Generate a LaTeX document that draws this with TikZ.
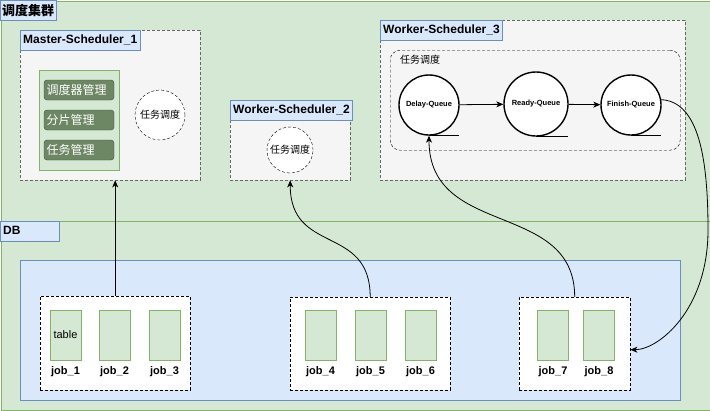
\documentclass[tikz,border=0pt]{standalone}
\usepackage{fontspec}
\setmainfont{Liberation Sans}
\newfontfamily\cjk{Noto Sans CJK SC}
\usetikzlibrary{arrows.meta,positioning}
\definecolor{zonefill}{HTML}{D5E8D4}
\definecolor{zoneline}{HTML}{82B366}
\definecolor{tagfill}{HTML}{DAE8FC}
\definecolor{tagline}{HTML}{6C8EBF}
\definecolor{hostfill}{HTML}{F5F5F5}
\definecolor{hostline}{HTML}{666666}
\definecolor{mgrfill}{HTML}{6D8764}
\definecolor{mgrline}{HTML}{3A5431}
\newcommand\fs[1]{\fontsize{#1}{#1}\selectfont}
\tikzset{
  zone/.style={
    fill = zonefill,
    draw = zoneline,
    line width = 0.8pt,
    anchor = north west
  },
  tag/.style={
    fill = tagfill,
    draw = tagline,
    anchor = north west,
    minimum height = 20pt,
    inner xsep = 3pt,
    inner ysep = 0pt,
    font = \bfseries\fs{12}
  },
  host/.style={
    fill = hostfill,
    draw = hostline,
    dash pattern = on 3pt off 2pt,
    anchor = north west
  },
  mgr/.style={
    fill = mgrfill,
    draw = mgrline,
    rounded corners = 3pt,
    minimum width = 70pt,
    minimum height = 20pt,
    text width = 65pt,
    inner xsep = 2.5pt,
    text = white,
    font = \cjk\fs{12}
  },
  task/.style={
    circle,
    draw,
    fill = white,
    dash pattern = on 3pt off 2pt,
    inner sep = 0pt,
    font = \cjk\fs{10}
  },
  queue/.style={
    circle,
    draw,
    fill = white,
    line width = 1.4pt,
    inner sep = 0pt,
    font = \bfseries\fs{7.5}
  },
  tail/.style={
    line width = 1.4pt
  },
  grp/.style={
    fill = white,
    draw,
    dash pattern = on 3pt off 2pt,
    anchor = north west
  },
  tbl/.style={
    fill = zonefill,
    draw = zoneline,
    minimum width = 31pt,
    minimum height = 50pt,
    font = \fs{11}
  },
  joblabel/.style={
    inner sep = 0pt,
    font = \bfseries\fs{11}
  },
  link/.style={
    line width = 0.8pt,
    -{Stealth[length=7pt,width=6pt,inset=2pt]}
  }
}

\begin{document}
\begin{tikzpicture}[x=1pt,y=-1pt]
        \useasboundingbox (0,0) rectangle (710,410);

        % the two zones
        \node[zone, minimum width=709pt, minimum height=220pt] (cluster) at (0.5,0.5) {};
        \node[zone, minimum width=709pt, minimum height=189pt] (db) at (0.5,220.5) {};
        \node[tag, inner xsep=2pt, font=\cjk\bfseries\fs{13}] (clustertag) at (0,0) {调度集群};
        \node[tag, text width=53pt] (dbtag) at (0,220.5) {DB};

        % Master-Scheduler_1
        \node[host, minimum width=180pt, minimum height=150pt] (master) at (20,30) {};
        \node[tag] (mastertag) at (master.north west) {Master-Scheduler\_1};
        \node[zone, minimum width=80pt, minimum height=100pt] (mgrbox) at (39,70) {};
        \node[mgr] (m1) at (79,90) {调度器管理};
        \node[mgr] (m2) at (79,120) {分片管理};
        \node[mgr] (m3) at (79,150) {任务管理};
        \node[task, minimum size=50pt] (mtask) at (160,115) {任务调度};

        % Worker-Scheduler_2
        \node[host, minimum width=120pt, minimum height=80pt] (ws2) at (230,100) {};
        \node[tag, minimum width=120pt] (ws2tag) at (ws2.north west) {Worker-Scheduler\_2};
        \node[task, minimum size=46pt] (wtask) at (290,150) {任务调度};

        % Worker-Scheduler_3
        \node[host, minimum width=305pt, minimum height=160pt] (ws3) at (380,20) {};
        \node[tag] (ws3tag) at (ws3.north west) {Worker-Scheduler\_3};
        \node[host, draw=black, rounded corners=10pt, minimum width=290pt, minimum height=100pt] (stage) at (390,50) {};
        \node[font=\cjk\fs{10}] (stagelabel) at (420,60) {任务调度};
        \node[queue, minimum size=60pt] (delay) at (429,105) {Delay-Queue};
        \node[queue, minimum size=64pt] (ready) at (536,104) {Ready-Queue};
        \node[queue, minimum size=60pt] (finish) at (631,105) {Finish-Queue};
        \draw[tail] (delay.south) -- ++(30,0);
        \draw[tail] (ready.south) -- ++(32,0);
        \draw[tail] (finish.south) -- ++(30,0);
        \draw[link] (delay) -- (ready);
        \draw[link] (ready) -- (finish);

        % DB tables
        \node[fill=tagfill, draw=tagline, anchor=north west, minimum width=660pt, minimum height=140pt] (dbarea) at (20,260) {};
        \node[grp, minimum width=150pt, minimum height=94pt] (grp1) at (40,296) {};
        \node[grp, minimum width=160pt, minimum height=93pt] (grp2) at (290,297) {};
        \node[grp, minimum width=111pt, minimum height=93pt] (grp3) at (519,297) {};

        \node[tbl] (t1) at (65.5,335) {table};
        \node[tbl] (t2) at (114.5,335) {};
        \node[tbl] (t3) at (164.5,335) {};
        \node[tbl] (t4) at (320.5,335) {};
        \node[tbl] (t5) at (370.5,335) {};
        \node[tbl] (t6) at (420.5,335) {};
        \node[tbl] (t7) at (553,335) {};
        \node[tbl] (t8) at (599,335) {};
        \foreach \t/\j in {t1/1,t2/2,t3/3,t4/4,t5/5,t6/6,t7/7,t8/8}
            \node[joblabel, below=6pt of \t] (job\j) {job\_\j};

        % connectors
        \coordinate (bend) at (708,230);
        \draw[link] (grp1.north) -- (grp1.north |- master.south);
        \draw[link] (grp2.north) .. controls +(0,-73) and +(0,75) .. (ws2.south);
        \draw[link] (grp3.north) .. controls +(0,-97) and +(0,103) .. (delay.south);
        \draw[link] (finish.10) .. controls +(38,2) and +(0,-70) .. (bend)
            .. controls +(0,80) and +(28,0) .. ([yshift=-6pt]grp3.east);
\end{tikzpicture}
\end{document}
